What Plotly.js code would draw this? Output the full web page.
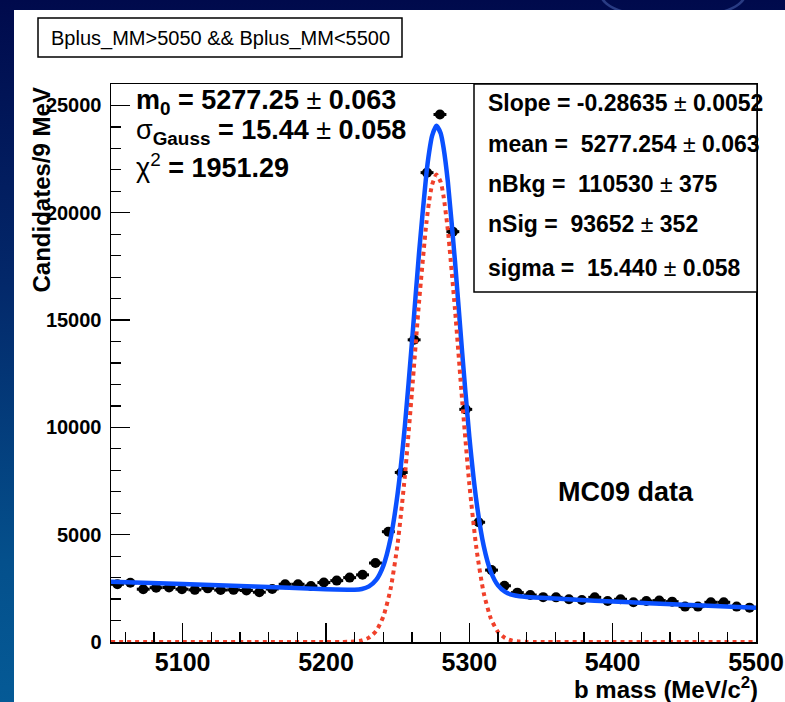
<!DOCTYPE html>
<html>
<head>
<meta charset="utf-8">
<script src="https://cdn.plot.ly/plotly-3.0.1.min.js"></script>
<style>
  html, body { margin: 0; padding: 0; }
  body {
    width: 785px; height: 702px; overflow: hidden; position: relative;
    background: linear-gradient(180deg, #000a4c 0%, #03286a 40%, #04508c 80%, #055a96 100%);
  }
  #panel { position: absolute; left: 14px; top: 10px; width: 771px; height: 692px; background: #ffffff; }
  #plot { position: absolute; left: 14px; top: 10px; width: 771px; height: 692px; }
  #glow { position: absolute; left: 600px; top: -30px; width: 140px; height: 44px; border-radius: 50%;
          border: 3px solid rgba(90,120,200,0.45); }
</style>
</head>
<body>
<div id="glow"></div>
<div id="panel"></div>
<div id="plot"></div>
<script>
// ---- data ----
const binCenters = [5054.5, 5063.5, 5072.5, 5081.5, 5090.5, 5099.5, 5108.5, 5117.5, 5126.5, 5135.5,
  5144.5, 5153.5, 5162.5, 5171.5, 5180.5, 5189.5, 5198.5, 5207.5, 5216.5, 5225.5,
  5234.5, 5243.5, 5252.5, 5261.5, 5270.5, 5279.5, 5288.5, 5297.5, 5306.5, 5315.5,
  5324.5, 5333.5, 5342.5, 5351.5, 5360.5, 5369.5, 5378.5, 5387.5, 5396.5, 5405.5,
  5414.5, 5423.5, 5432.5, 5441.5, 5450.5, 5459.5, 5468.5, 5477.5, 5486.5, 5495.5];
const candidates = [2690, 2760, 2460, 2530, 2540, 2460, 2430, 2500, 2420, 2430,
  2400, 2320, 2470, 2690, 2690, 2610, 2770, 2860, 3000, 3130,
  3680, 5140, 7900, 14080, 21870, 24580, 19120, 10840, 5580, 3350,
  2620, 2300, 2190, 2090, 2080, 1990, 1960, 2080, 1910, 1990,
  1850, 1910, 1930, 1880, 1650, 1650, 1850, 1850, 1650, 1600];

// total fit (blue)
const fitMass = [5050, 5100, 5150, 5200, 5215, 5220, 5225, 5230, 5235, 5240, 5245, 5250, 5255, 5260,
  5265, 5270, 5272, 5274, 5277, 5280, 5282, 5285, 5290, 5295, 5300, 5305, 5310, 5315, 5320,
  5325, 5330, 5335, 5340, 5350, 5375, 5400, 5425, 5450, 5475, 5500];
const fitTotal = [2810, 2700, 2585, 2460, 2432, 2434, 2471, 2590, 2891, 3549, 4810, 6931, 10040, 13991,
  18202, 21796, 22841, 23583, 24053, 23703, 23034, 21453, 17728, 13476, 9569, 6534, 4484, 3272, 2634,
  2333, 2196, 2134, 2101, 2060, 1970, 1885, 1810, 1740, 1670, 1600];

// signal Gaussian (red dotted)
const sigMass = [5050, 5100, 5150, 5200, 5210, 5215, 5220, 5225, 5230, 5235, 5240, 5245, 5250, 5255, 5260,
  5265, 5270, 5272, 5274, 5277, 5280, 5282, 5285, 5290, 5295, 5300, 5305, 5310, 5315, 5320,
  5325, 5330, 5335, 5340, 5345, 5350, 5400, 5450, 5500];
const sigGauss = [0, 0, 0, 0, 2, 8, 22, 71, 202, 515, 1185, 2458, 4591, 7712, 11675,
  15898, 19504, 20554, 21301, 21778, 21436, 20772, 19199, 15487, 11248, 7354, 4332, 2295, 1096, 471,
  183, 64, 20, 5, 1, 0, 0, 0, 0];

const xTickVals = [5100, 5200, 5300, 5400, 5500];
const yTickVals = [0, 5000, 10000, 15000, 20000, 25000];

const titleText = 'Bplus_MM>5050 && Bplus_MM<5500';
const fitLines = [
  '<b>m<sub>0</sub> = 5277.25</b> ± <b>0.063</b>',
  'σ<sub><b>Gauss</b></sub><b> = 15.44</b> ± <b>0.058</b>',
  'χ<sup>2</sup><b> = 1951.29</b>'
];
const statLines = [
  '<b>Slope = -0.28635</b> ± <b>0.0052</b>',
  '<b>mean =  5277.254</b> ± <b>0.063</b>',
  '<b>nBkg =  110530</b> ± <b>375</b>',
  '<b>nSig =  93652</b> ± <b>352</b>',
  '<b>sigma =  15.440</b> ± <b>0.058</b>'
];

// ---- geometry helpers (page px -> paper fraction) ----
const DIV_L = 14, DIV_T = 10, M_L = 97, M_T = 74, PW = 645, PH = 558;
const px = x => (x - DIV_L - M_L) / PW;
const py = y => 1 - (y - DIV_T - M_T) / PH;

const FONT = 'Liberation Sans, Arial, Helvetica, sans-serif';

const traces = [
  {
    type: 'scatter', mode: 'markers', x: binCenters, y: candidates,
    marker: { color: '#000000', size: 10, symbol: 'circle' },
    error_x: { type: 'constant', value: 4.5, width: 0, thickness: 3, color: '#000000' },
    error_y: { type: 'sqrt', width: 0, thickness: 2.5, color: '#000000' },
    hoverinfo: 'skip', showlegend: false
  },
  {
    type: 'scatter', mode: 'lines', x: fitMass, y: fitTotal,
    line: { color: '#0a50ff', width: 4.5, shape: 'spline', smoothing: 0.6 },
    hoverinfo: 'skip', showlegend: false
  },
  {
    type: 'scatter', mode: 'lines', x: sigMass, y: sigGauss,
    line: { color: '#f0402a', width: 4, dash: 'dot', shape: 'spline', smoothing: 0.6 },
    hoverinfo: 'skip', showlegend: false
  }
];

const annotations = [];
annotations.push({ xref: 'paper', yref: 'paper', x: px(220), y: py(38), xanchor: 'center', yanchor: 'middle',
  text: titleText, showarrow: false, font: { family: FONT, size: 20, color: '#000' } });
const fitY = [102, 132, 166];
fitLines.forEach((t, i) => annotations.push({ xref: 'paper', yref: 'paper', x: px(135), y: py(fitY[i]),
  xanchor: 'left', yanchor: 'middle', text: t, showarrow: false, borderpad: 0,
  font: { family: FONT, size: 27, color: '#000' } }));
const statY = [103.5, 143.5, 184, 224, 268];
statLines.forEach((t, i) => annotations.push({ xref: 'paper', yref: 'paper', x: px(486), y: py(statY[i]),
  xanchor: 'left', yanchor: 'middle', text: t, showarrow: false, font: { family: FONT, size: 23, color: '#000' } }));
annotations.push({ xref: 'paper', yref: 'paper', x: px(556), y: py(492), xanchor: 'left', yanchor: 'middle',
  text: '<b>MC09 data</b>', showarrow: false, font: { family: FONT, size: 27, color: '#000' } });
annotations.push({ xref: 'paper', yref: 'paper', x: px(759), y: py(688), xanchor: 'right', yanchor: 'middle',
  text: '<b>b mass (MeV/c<sup>2</sup>)</b>', showarrow: false, borderpad: 0,
  font: { family: FONT, size: 24, color: '#000' } });
annotations.push({ xref: 'paper', yref: 'paper', x: px(41), y: py(86), xanchor: 'center', yanchor: 'top',
  textangle: -90, text: '<b>Candidates/9 MeV</b>', showarrow: false, font: { family: FONT, size: 24, color: '#000' } });

const shapes = [
  { type: 'rect', xref: 'paper', yref: 'paper', x0: px(38), x1: px(402), y0: py(57), y1: py(18),
    line: { color: '#000', width: 1.5 }, fillcolor: 'rgba(0,0,0,0)' },
  { type: 'rect', xref: 'paper', yref: 'paper', x0: px(474), x1: px(757), y0: py(292), y1: py(84),
    line: { color: '#000', width: 1.5 }, fillcolor: '#ffffff', layer: 'above' }
];

const layout = {
  width: 771, height: 692,
  margin: { l: M_L, r: 771 - M_L - PW, t: M_T, b: 692 - M_T - PH, pad: 0 },
  paper_bgcolor: '#ffffff', plot_bgcolor: '#ffffff',
  showlegend: false,
  font: { family: FONT, color: '#000' },
  xaxis: {
    range: [5050, 5500], tickvals: xTickVals, ticktext: xTickVals.map(String),
    ticks: 'inside', ticklen: 19, tickwidth: 1.2, tickcolor: '#000',
    minor: { dtick: 20, tick0: 5000, ticks: 'inside', ticklen: 10, tickwidth: 1.2, tickcolor: '#000' },
    showgrid: false, zeroline: false, showline: true, mirror: true, linecolor: '#000', linewidth: 1.5,
    tickfont: { family: FONT, size: 25, color: '#000', weight: 'bold' }, ticklabelstandoff: -3,
    fixedrange: true
  },
  yaxis: {
    range: [0, 26000], tickvals: yTickVals, ticktext: yTickVals.map(String),
    ticks: 'inside', ticklen: 19, tickwidth: 1.2, tickcolor: '#000',
    minor: { dtick: 1000, tick0: 0, ticks: 'inside', ticklen: 10, tickwidth: 1.2, tickcolor: '#000' },
    showgrid: false, zeroline: false, showline: true, mirror: true, linecolor: '#000', linewidth: 1.5,
    tickfont: { family: FONT, size: 20, color: '#000', weight: 'bold' }, ticklabelstandoff: 4,
    fixedrange: true
  },
  annotations: annotations,
  shapes: shapes
};

Plotly.newPlot('plot', traces, layout, { displayModeBar: false, staticPlot: true });
</script>
</body>
</html>
